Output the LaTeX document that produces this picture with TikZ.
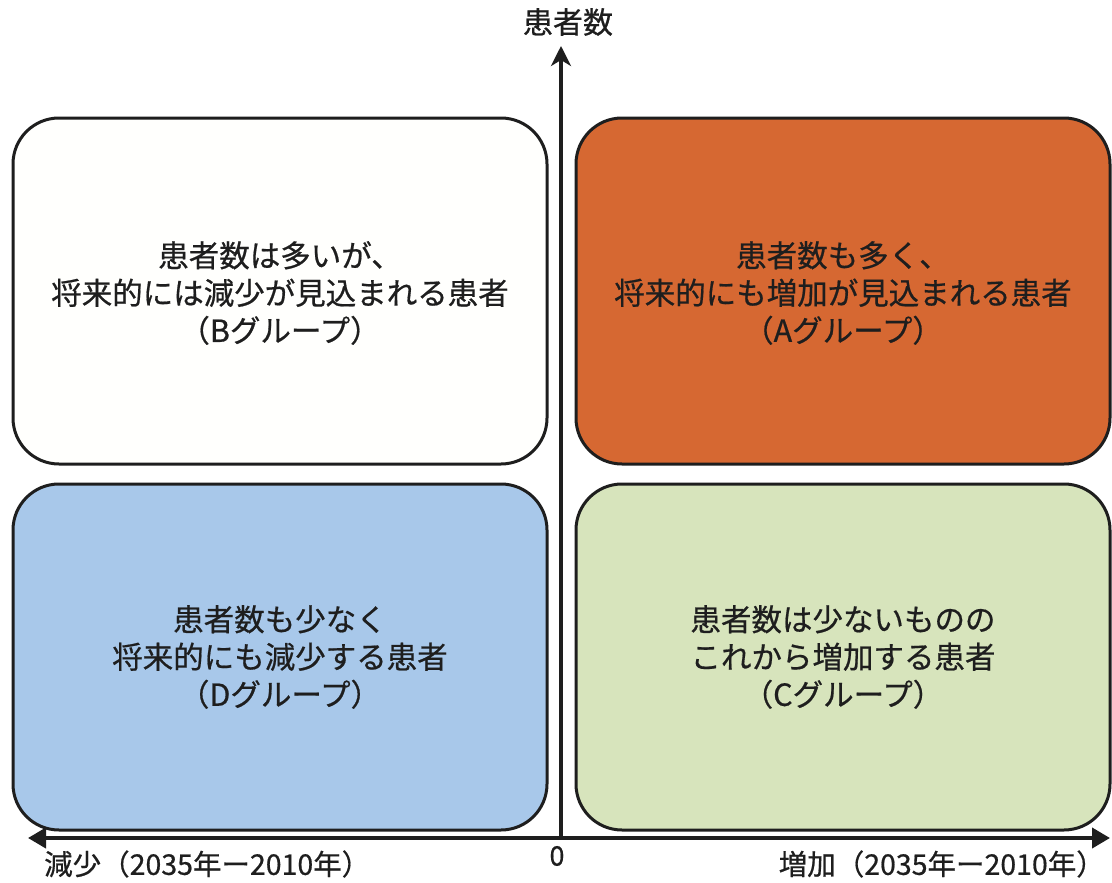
\documentclass[tikz,border=0pt]{standalone}
\usepackage{fontspec}
\setmainfont{Noto Sans CJK JP}[FakeBold=0.6]
\usetikzlibrary{arrows.meta}
\definecolor{qA}{RGB}{214,104,50}
\definecolor{qB}{RGB}{255,255,253}
\definecolor{qC}{RGB}{215,228,188}
\definecolor{qD}{RGB}{168,200,234}
\definecolor{ink}{RGB}{30,30,30}
\tikzset{
  quad/.style={draw=ink, line width=3pt, rounded corners=46pt, minimum width=534pt, minimum height=346pt, inner sep=0pt},
  qtext/.style={font=\fontsize{30.5}{37.5}\selectfont, align=center, text=ink},
  axis/.style={draw=ink, line width=4pt},
  lbl/.style={font=\fontsize{28.5}{30}\selectfont, text=ink, inner sep=0pt}
}
\begin{document}
\begin{tikzpicture}[x=1pt,y=-1pt]
\useasboundingbox (0,0) rectangle (1112,883);
\fill[white] (0,0) rectangle (1112,883);
% quadrants
\node[quad, fill=qB] (B) at (280,291) {};
\node[quad, fill=qA] (A) at (843,291) {};
\node[quad, fill=qD] (D) at (280,657) {};
\node[quad, fill=qC] (C) at (843,657) {};
\node[qtext] (tB) at (280,293) {患者数は多いが、\\将来的には減少が見込まれる患者\\（Bグループ）};
\node[qtext] (tA) at (843,293) {患者数も多く、\\将来的にも増加が見込まれる患者\\（Aグループ）};
\node[qtext] (tD) at (280,657) {患者数も少なく\\将来的にも減少する患者\\（Dグループ）};
\node[qtext] (tC) at (843,657) {患者数は少ないものの\\これから増加する患者\\（Cグループ）};
% axes
\coordinate (O) at (561,838);
\coordinate (Top) at (561,46);
\coordinate (Left) at (28,838);
\coordinate (Right) at (1110,838);
\draw[axis, -{Stealth[length=20pt,width=20pt,inset=6pt]}] (O) -- (Top);
\draw[axis, {Triangle[length=18pt,width=20pt]}-{Triangle[length=18pt,width=20pt]}] (Left) -- (Right);
% labels
\node[lbl, font=\fontsize{30}{32}\selectfont] (ylab) at (568,22) {患者数};
\node[lbl, font=\fontsize{27}{28}\selectfont] (zero) at (557,856) {0};
\node[lbl, anchor=west] (xl) at (44,864) {減少（2035年ー2010年）};
\node[lbl, anchor=east] (xr) at (1105,864) {増加（2035年ー2010年）};
\end{tikzpicture}
\end{document}
